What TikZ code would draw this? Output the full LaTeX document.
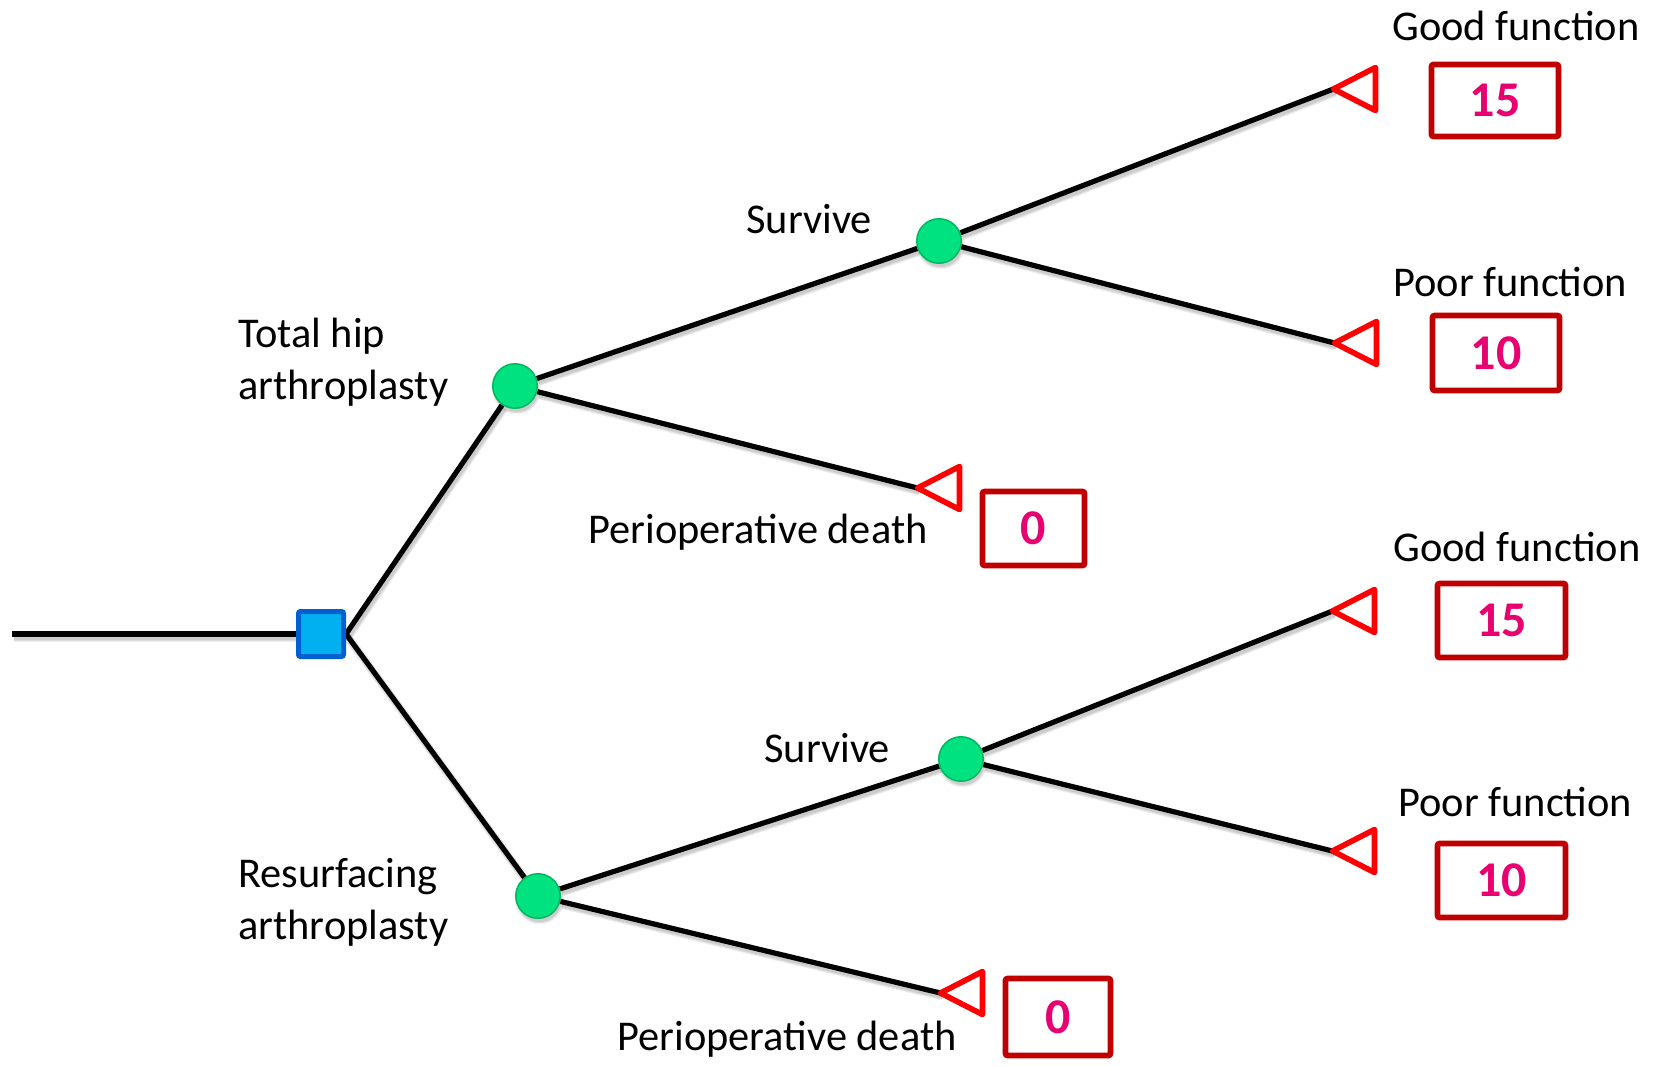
\documentclass[tikz,border=0pt]{standalone}
\usepackage{fontspec}
\setmainfont{Carlito}

\definecolor{sqfill}{RGB}{0,176,240}
\definecolor{sqline}{RGB}{0,96,208}
\definecolor{chfill}{RGB}{0,226,128}
\definecolor{chline}{RGB}{0,184,96}
\definecolor{termred}{RGB}{255,0,0}
\definecolor{boxred}{RGB}{192,0,0}
\definecolor{numpink}{RGB}{232,0,112}

\pgfdeclarelayer{bg}
\pgfsetlayers{bg,main}

\begin{document}
\begin{tikzpicture}[x=0.5pt,y=-0.5pt,
  branch/.style={draw=black,line width=2.6pt},
  branchshade/.style={draw=black,line width=#1,opacity=0.07,
    transform canvas={shift={(0.9pt,-1.6pt)}}},
  decision/.style={rectangle,draw=sqline,fill=sqfill,line width=2.5pt,
    minimum size=22.5pt,inner sep=0pt,rounded corners=1pt},
  chance/.style={circle,draw=chline,fill=chfill,line width=0.75pt,
    minimum size=22.25pt,inner sep=0pt},
  terminal/.style={draw=termred,line width=2.8pt,line join=round},
  payoff/.style={rectangle,draw=boxred,line width=2.8pt,rounded corners=1pt,
    inner sep=0pt,text=numpink,font=\fontsize{25}{29}\selectfont\bfseries},
  lbl/.style={inner sep=0pt,anchor=base west,font=\fontsize{21.2}{25}\selectfont}]

\useasboundingbox (0,0) rectangle (1653,1066);

% decision and chance nodes
\coordinate (root) at (12,634);
\node[decision] (S) at (321,634) {};
\node[chance] (C1) at (515,386) {};
\node[chance] (C2) at (939,241) {};
\node[chance] (C3) at (538,896) {};
\node[chance] (C4) at (961,759) {};

% terminal tips
\coordinate (T1) at (1333.5,89);
\coordinate (T2) at (1334.5,343);
\coordinate (T3) at (917.5,488);
\coordinate (T4) at (1332.5,611);
\coordinate (T5) at (1332.5,851);
\coordinate (T6) at (940.5,993);

\foreach \t in {T1,T2,T3,T4,T5,T6}
  \draw[terminal] (\t) -- ++(42,-21.5) -- ++(0,43) -- cycle;

% payoffs
\node[payoff,minimum width=63.5pt,minimum height=36pt] (B1) at (1495,100.5) {15};
\node[payoff,minimum width=63.5pt,minimum height=37.5pt] (B2) at (1496,353) {10};
\node[payoff,minimum width=51pt,minimum height=37pt] (B3) at (1033.5,528.5) {0};
\node[payoff,minimum width=64pt,minimum height=37pt] (B4) at (1501.5,620.5) {15};
\node[payoff,minimum width=64pt,minimum height=37pt] (B5) at (1501.5,880.5) {10};
\node[payoff,minimum width=52.5pt,minimum height=38.5pt] (B6) at (1058,1017) {0};

% branches, behind the nodes, with a soft shadow
\begin{pgfonlayer}{bg}
  \foreach \c in {C1,C2,C3,C4}
    \foreach \r/\o in {12.2/0.05,11.6/0.07,11/0.09}
      \fill[black,opacity=\o] ([shift={(0.8pt,-2pt)}]\c.center) circle (\r pt);
  \foreach \a/\b in {root/S.west,S.east/C1,S.east/C3,C1/C2,C1/T3,C2/T1,C2/T2,C3/C4,C3/T6,C4/T4,C4/T5}
    \foreach \w in {4.4pt,3.4pt,2.4pt}
      \draw[branchshade=\w] (\a) -- (\b);
  \foreach \a/\b in {root/S.west,S.east/C1,S.east/C3,C1/C2,C1/T3,C2/T1,C2/T2,C3/C4,C3/T6,C4/T4,C4/T5}
    \draw[branch] (\a) -- (\b);
\end{pgfonlayer}

% labels
\node[lbl] (L1) at (238,347) {Total hip};
\node[lbl] (L2) at (238,399) {arthroplasty};
\node[lbl] (L3) at (238,887) {Resurfacing};
\node[lbl] (L4) at (238,939) {arthroplasty};
\node[lbl] (L5) at (746,233) {Survive};
\node[lbl] (L6) at (764,762) {Survive};
\node[lbl] (L7) at (588,543) {Perioperative death};
\node[lbl] (L8) at (617,1050) {Perioperative death};
\node[lbl] (L9) at (1392,40) {Good function};
\node[lbl] (L10) at (1393,296) {Poor function};
\node[lbl] (L11) at (1393,561) {Good function};
\node[lbl] (L12) at (1398,816) {Poor function};

\end{tikzpicture}
\end{document}
